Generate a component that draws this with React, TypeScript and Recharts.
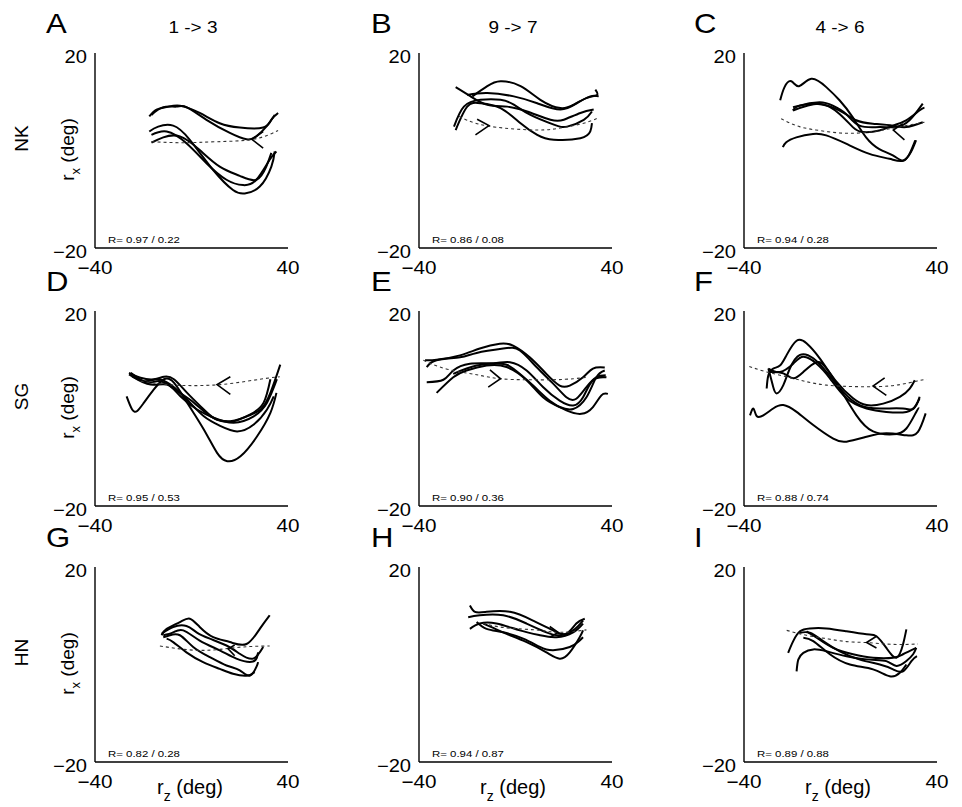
import React from 'react';
import { ComposedChart, Line, XAxis, YAxis } from 'recharts';

type Pt = [number, number];

// panel A  (NK, 1 -> 3)
const a1: Pt[] = [[-17.5, 7.0], [-14.5, 8.4], [-10.3, 8.9], [-4.8, 9.2], [3.4, 7.7], [11.7, 5.6], [20, 4.7], [29.7, 4.7], [33.1, 6.3], [35.9, 7.7]];
const a2: Pt[] = [[-16.6, 7.3], [-11.7, 8.9], [-6.2, 9.0], [-2.1, 8.9], [6.2, 6.3], [15.9, 3.6], [22.8, 2.3], [26.9, 2.9], [31, 4.9], [34.5, 7.3]];
const a3: Pt[] = [[-17.5, 3.9], [-13.8, 4.9], [-7.6, 5.1], [-0.7, 2.2], [9.0, -4.0], [17.2, -8.1], [22.1, -8.8], [28.3, -7.4], [33.1, -3.3], [34.5, -0.2]];
const a4: Pt[] = [[-16.6, 3.2], [-10.3, 3.9], [-2.1, 1.5], [6.2, -2.6], [14.5, -6.0], [21.4, -7.1], [26.9, -6.0], [32.4, -1.9], [35.2, -0.2]];
const a5: Pt[] = [[-16.6, 1.6], [-11.7, 2.7], [-4.8, 2.9], [3.4, 0.1], [11.7, -3.3], [20, -5.2], [26.9, -6.0], [31, -3.3], [33.1, -0.5]];
const aDash: Pt[] = [[-16.6, 1.8], [-3.4, 1.6], [10.3, 1.8], [25.5, 2.3], [35.9, 4.1]];
const aArrow: Pt[] = [[29.7, 3.9], [25.0, 2.3], [29.7, 0.5]];

// panel B  (NK, 9 -> 7)
const b1: Pt[] = [[-17.9, 11.1], [-11.7, 13.2], [-6.2, 14.2], [2.1, 13.2], [10.3, 10.4], [18.6, 8.7], [24.1, 9.4], [29.7, 10.8], [33.8, 11.4], [33.1, 12.5]];
const b2: Pt[] = [[-20, 11.4], [-11.7, 11.8], [-0.7, 11.1], [9.0, 9.7], [18.6, 8.4], [25.5, 9.7], [31, 11.1], [34.5, 11.1]];
const b3: Pt[] = [[-24.8, 13.0], [-18.6, 11.1], [-11.7, 9.4], [-3.4, 9.0], [4.8, 8.0], [14.5, 6.3], [20, 6.3], [26.9, 7.7], [32.4, 8.4]];
const b4: Pt[] = [[-25.5, 4.9], [-21.4, 9.0], [-14.5, 10.4], [-6.2, 10.4], [-0.7, 9.4], [6.2, 7.3], [15.9, 5.3], [21.4, 4.9], [28.3, 6.3], [31.7, 8.0]];
const b5: Pt[] = [[-24.8, 4.2], [-20, 9.0], [-14.5, 9.7], [-6.2, 8.7], [2.1, 5.6], [9.0, 3.2], [15.9, 2.2], [26.9, 2.5], [31, 3.9], [31.7, 5.6]];
const bDash: Pt[] = [[-23.4, 7.0], [-15.9, 5.5], [-4.8, 4.6], [9.0, 4.2], [18.6, 4.6], [28.3, 5.6], [33.8, 6.6]];
const bArrow: Pt[] = [[-15.9, 6.4], [-11.0, 5.1], [-16.6, 3.2]];

// panel C  (NK, 4 -> 6)
const c1: Pt[] = [[-25, 10.3], [-23.2, 13.0], [-20.4, 14.2], [-17.2, 13.2], [-12.1, 14.7], [-5.9, 13.0], [-0.4, 10.3], [5.1, 6.8], [10.6, 2.7], [16.1, 0.3], [21.7, -1.0], [25.8, -2.1], [28.6, -0.7], [31, 2.1]];
const c2: Pt[] = [[-19.7, 8.2], [-17, 9.2], [-8.7, 9.9], [-3.2, 9.2], [2.3, 7.5], [7.9, 5.1], [16.1, 4.8], [23, 4.8], [28.6, 6.2], [34.1, 9.6]];
const c3: Pt[] = [[-19.7, 8.9], [-10.1, 9.6], [-0.4, 8.2], [6.5, 6.2], [13.4, 5.5], [21.7, 5.1], [27.2, 4.8], [34.1, 5.8]];
const c4: Pt[] = [[-19.7, 8.2], [-8.7, 9.6], [-0.4, 7.5], [5.1, 4.8], [9.2, 3.8], [16.1, 4.1], [21.7, 5.1], [27.2, 6.2], [32.7, 8.2], [34.8, 8.8]];
const c5: Pt[] = [[-23.9, 0.7], [-22.5, 1.7], [-18.3, 2.7], [-11.4, 3.4], [-5.9, 3.1], [2.3, 1.4], [12, -0.7], [20.3, -1.7], [25.8, -2.1], [29.2, -0.3], [31.3, 2.1]];
const cDash: Pt[] = [[-24.6, 6.5], [-17, 4.9], [-8.7, 4.1], [-0.4, 3.6], [7.9, 3.6], [17.5, 4.2], [27.2, 5.1], [34.8, 5.8]];
const cArrow: Pt[] = [[25.8, 5.5], [21.9, 4.2], [26.5, 2.2]];

// panel D  (SG, 1 -> 3)
const d1: Pt[] = [[-26.9, 2.5], [-24.6, -0.2], [-22.5, -0.5], [-19.7, 1.2], [-15.6, 3.9], [-11.4, 6.0], [-7.3, 5.3], [-1.8, 1.2], [5.1, -4.3], [10.6, -9.1], [14.8, -10.8], [20.3, -9.8], [27.2, -5.7], [32.7, -0.9], [35.2, 3.2]];
const d2: Pt[] = [[-25.9, 7.3], [-21.1, 6.3], [-15.6, 6.0], [-11.4, 6.5], [-7.3, 6.0], [-1.8, 3.2], [5.1, -0.2], [10.6, -2.3], [17.5, -2.6], [23, -1.6], [28.6, -0.2], [32.7, 3.2], [36.8, 9.0]];
const d3: Pt[] = [[-25.9, 7.0], [-19.7, 5.6], [-14.2, 6.0], [-8.7, 4.9], [-1.8, 1.8], [5.1, -1.6], [12, -3.6], [18.9, -4.7], [25.8, -3.3], [31.3, -0.2], [34.1, 2.5]];
const d4: Pt[] = [[-25.2, 7.3], [-18.3, 5.3], [-12.8, 5.6], [-5.9, 3.6], [1, 1.2], [7.9, -1.6], [16.1, -2.6], [24.4, -1.2], [29.9, 1.2], [32.7, 6.0]];
const d5: Pt[] = [[-24.6, 6.6], [-17, 4.9], [-10.1, 4.9], [-4.6, 2.5], [2.3, -0.2], [9.2, -1.9], [17.5, -2.9], [25.8, -1.6], [31.3, 1.2], [35.4, 6.0]];
const dDash: Pt[] = [[-21.1, 5.6], [-10.1, 4.9], [1, 4.7], [12, 4.9], [23, 5.6], [32.7, 6.3], [36.6, 6.5]];
const dArrow: Pt[] = [[16.1, 6.5], [10.6, 4.9], [16.1, 2.9]];

// panel E  (SG, 9 -> 7)
const e1: Pt[] = [[-37.5, 9.9], [-32.7, 10.0], [-23, 10.9], [-14.8, 12.3], [-6.5, 13.3], [-1, 12.9], [5.9, 10.5], [12.8, 7.1], [18.3, 4.7], [22.5, 4.7], [28, 6.4], [32.1, 8.2], [37, 8.4]];
const e2: Pt[] = [[-36.8, 8.5], [-32.7, 9.9], [-23, 10.5], [-16.1, 11.4], [-5.1, 12.3], [1.8, 11.9], [8.7, 8.5], [15.6, 5.1], [21.1, 2.3], [25.2, 2.0], [29.4, 4.4], [33.5, 6.4], [37.4, 6.8]];
const e3: Pt[] = [[-36.8, 5.4], [-29.9, 5.9], [-25.8, 7.8], [-18.9, 9.2], [-9.2, 9.3], [-2.3, 9.5], [4.6, 7.8], [11.4, 4.4], [18.3, 1.6], [23.9, 0.6], [28, 2.3], [32.1, 5.8], [37.7, 6.4]];
const e4: Pt[] = [[-32.7, 3.2], [-25.8, 6.4], [-20.3, 7.8], [-12, 8.8], [-3.7, 8.5], [4.6, 5.8], [11.4, 2.3], [18.3, 0.3], [23.9, -0.1], [29.4, 2.3], [33.5, 6.4], [37, 7.8]];
const e5: Pt[] = [[-25.8, 7.1], [-16.1, 8.8], [-6.5, 9.2], [-1, 8.2], [7.3, 4.7], [14.2, 1.6], [21.1, -0.4], [27.3, -1.1], [32.1, 0.3], [35.6, 2.7], [38.3, 3.0]];
const eDash: Pt[] = [[-38.2, 9.9], [-31.3, 8.5], [-23, 7.5], [-14.8, 6.8], [-6.5, 6.1], [4.6, 5.9], [15.6, 5.9], [23.9, 6.1], [29.4, 6.4]];
const eArrow: Pt[] = [[-10.6, 7.9], [-6.2, 6.1], [-11.3, 4.4]];

// panel F  (SG, 4 -> 6)
const f1: Pt[] = [[-30.6, 4.1], [-29.9, 6.8], [-27.9, 8.2], [-25.1, 8.8], [-22.3, 11.0], [-18.2, 13.9], [-14.1, 13.4], [-8.6, 10.3], [-1.7, 5.5], [5.2, 2.1], [10.8, 0.7], [17.7, 1.0], [24.6, 2.4], [28.7, 4.1], [30.8, 5.8]];
const f2: Pt[] = [[-29.9, 8.2], [-28.1, 4.8], [-26.5, 3.1], [-23.7, 4.8], [-21, 8.2], [-16.8, 11.0], [-11.3, 10.3], [-5.8, 7.5], [1.1, 3.4], [8, 0.7], [16.3, 0], [25.9, 0], [30.1, -0.1], [32.8, 2.1]];
const f3: Pt[] = [[-29.9, 8.2], [-25.1, 7.5], [-19.6, 9.2], [-15.4, 10.6], [-9.9, 9.2], [-4.4, 6.2], [2.5, 2.1], [10.8, 0], [19, -0.7], [27.3, -0.7], [31.4, 0.7], [32.8, 2.4]];
const f4: Pt[] = [[-29.2, 7.5], [-23.7, 7.2], [-19.6, 6.2], [-15.4, 7.5], [-9.9, 9.5], [-5.8, 8.2], [-0.3, 4.1], [6.6, -1.4], [13.5, -4.7], [21.8, -5.3], [27.3, -4.1], [31.4, -0.7], [32.6, 0]];
const f5: Pt[] = [[-37.5, -1.4], [-36.1, 0], [-34.8, -1.5], [-32, -1.4], [-27.9, 0], [-23.7, 0.7], [-18.2, -0.7], [-11.3, -3.4], [-3, -6.2], [2.5, -6.8], [10.8, -5.8], [19, -5.1], [27.3, -5.5], [32.1, -4.8], [35.3, -1.0]];
const fDash: Pt[] = [[-37.8, 8.6], [-30.6, 7.5], [-22.3, 6.5], [-14.1, 5.5], [-5.8, 4.8], [5.2, 4.5], [16.3, 4.5], [24.6, 4.9], [31.4, 5.6], [35.6, 6.0]];
const fArrow: Pt[] = [[18.3, 6.3], [13.5, 4.6], [19, 2.7]];

// panel G  (HN, 1 -> 3)
const g1: Pt[] = [[-12.4, 6.0], [-10.3, 7.3], [-4.8, 8.7], [-0.7, 9.4], [3.4, 7.7], [9, 5.6], [15.9, 4.6], [22.8, 4.2], [28.3, 7.3], [32.4, 10.1]];
const g2: Pt[] = [[-12.4, 6.3], [-7.6, 7.7], [-2.1, 7.9], [2.1, 6.6], [7.6, 5.3], [14.5, 3.9], [20, 2.2], [25.5, 1.2], [29.7, 3.6]];
const g3: Pt[] = [[-11.7, 6.0], [-7.6, 6.6], [-3.4, 7.0], [3.4, 4.9], [11.7, 2.9], [18.6, 1.2], [25.5, 0.6], [27.6, 2.5]];
const g4: Pt[] = [[-11.7, 5.6], [-9, 6.0], [-4.8, 6.0], [0.7, 3.6], [7.6, 1.5], [14.5, -0.2], [20, -1.2], [24.1, -2.3], [26.9, -0.5], [27.6, 0.5]];
const g5: Pt[] = [[-10.3, 5.3], [-7.6, 4.6], [-2.1, 2.5], [4.8, 0.5], [11.7, -0.9], [17.2, -1.9], [22.8, -2.3], [26.2, -1.6]];
const gDash: Pt[] = [[-13.1, 3.8], [-4.8, 3.2], [3.4, 2.9], [11.7, 3.1], [21.4, 3.6], [32.4, 3.8]];
const gArrow: Pt[] = [[17.9, 4.0], [15.2, 3.2], [17.9, 1.8]];

// panel H  (HN, 9 -> 7)
const h1: Pt[] = [[-18.9, 12.1], [-16.8, 10.8], [-12, 10.8], [-2.3, 10.8], [7.3, 9.0], [15.6, 7.0], [21.1, 6.3], [25.2, 8.4], [28.7, 9.4]];
const h2: Pt[] = [[-19.6, 9.7], [-14.8, 10.1], [-5.1, 10.1], [4.6, 8.4], [12.8, 6.6], [18.3, 6.0], [23.9, 7.0], [28, 9.0]];
const h3: Pt[] = [[-18.9, 7.3], [-14.8, 8.4], [-7.9, 8.4], [1.8, 7.0], [10.1, 6.0], [17, 5.6], [23.9, 6.6], [28, 8.4]];
const h4: Pt[] = [[-16.1, 8.7], [-12, 7.3], [-5.1, 6.6], [3.2, 5.3], [10.1, 3.6], [15.6, 2.9], [22.5, 3.6], [25.9, 4.6], [28, 5.6]];
const h5: Pt[] = [[-13.4, 8.4], [-9.2, 7.5], [-3.7, 6.3], [4.6, 4.6], [12.8, 2.5], [18.3, 1.2], [22.5, 2.5], [26.6, 5.6], [28, 7.0]];
const hDash: Pt[] = [[-13.4, 8.4], [-6.5, 7.7], [1.8, 7.3], [10.1, 7.0], [18.3, 6.6], [29.4, 7.1]];
const hArrow: Pt[] = [[14.2, 7.8], [17.7, 6.6], [14.2, 5.6]];

// panel I  (HN, 4 -> 6)
const i1: Pt[] = [[-21.7, 2.4], [-19.6, 4.8], [-16.8, 6.8], [-12.7, 7.4], [-5.8, 7.4], [2.5, 6.8], [10.8, 6.2], [14.9, 5.8], [19, 3.4], [23.2, 1.4], [25.9, 4.1], [27.3, 7.2]];
const i2: Pt[] = [[-18.2, -1.4], [-17.5, 1.0], [-15.4, 2.4], [-11.3, 3.1], [-5.8, 2.7], [2.5, 1.7], [12.1, 1.0], [19, 0.7], [23.2, -0.3], [27.3, 0.7], [30.1, 2.1], [31.4, 3.4]];
const i3: Pt[] = [[-16.8, 6.5], [-12.7, 6.5], [-7.2, 4.8], [-0.3, 2.7], [8, 1.0], [16.3, 0], [21.8, -1.0], [25.9, -1.4], [29.4, 0.7], [31.7, 1.7]];
const i4: Pt[] = [[-15.4, 5.5], [-11.3, 4.8], [-4.4, 2.1], [3.9, 0], [13.5, -1.0], [20.4, -2.4], [24.6, -1.7], [27.3, 0]];
const i5: Pt[] = [[-14.1, 6.8], [-9.9, 5.5], [-3, 3.4], [5.2, 2.1], [13.5, 1.4], [21.8, 1.4], [25.9, 2.1], [31.4, 3.4]];
const iDash: Pt[] = [[-22.3, 7.0], [-14.1, 6.0], [-5.8, 5.3], [2.5, 4.7], [10.8, 4.5], [19, 4.2], [25.9, 4.1], [32.1, 4.2]];
const iArrow: Pt[] = [[14.9, 5.8], [10.8, 4.5], [14.9, 3.4]];

const letters = ['A', 'B', 'C', 'D', 'E', 'F', 'G', 'H', 'I'];
const rLabels = ['R= 0.97 / 0.22', 'R= 0.86 / 0.08', 'R= 0.94 / 0.28', 'R= 0.95 / 0.53', 'R= 0.90 / 0.36', 'R= 0.88 / 0.74', 'R= 0.82 / 0.28', 'R= 0.94 / 0.87', 'R= 0.89 / 0.88'];
const titles = ['1 -> 3', '9 -> 7', '4 -> 6'];
const subjects = ['NK', 'SG', 'HN'];
const xTicks = [-40, 40];
const yTicks = [-20, 20];

const panels = [
  { curves: [a1, a2, a3, a4, a5], dash: aDash, arrow: aArrow },
  { curves: [b1, b2, b3, b4, b5], dash: bDash, arrow: bArrow },
  { curves: [c1, c2, c3, c4, c5], dash: cDash, arrow: cArrow },
  { curves: [d1, d2, d3, d4, d5], dash: dDash, arrow: dArrow },
  { curves: [e1, e2, e3, e4, e5], dash: eDash, arrow: eArrow },
  { curves: [f1, f2, f3, f4, f5], dash: fDash, arrow: fArrow },
  { curves: [g1, g2, g3, g4, g5], dash: gDash, arrow: gArrow },
  { curves: [h1, h2, h3, h4, h5], dash: hDash, arrow: hArrow },
  { curves: [i1, i2, i3, i4, i5], dash: iDash, arrow: iArrow },
];

// layout (plot area corners, px)
const colLeft = [95, 419, 744];
const rowTop = [53, 311, 567];
const PW = 193;
const PH = 195;
const letterX = [46, 371, 694];
const titleX = [193, 513, 840];
const rzX = [190, 513, 838];

const toPts = (p: Pt[]) => p.map(([x, y]) => ({ x, y }));
const fmt = (v: number) => (v < 0 ? `\u2212${-v}` : `${v}`);

const XTick = (p: any) => (
  <text transform={`translate(${p.x},${p.y}) scale(1.15,1)`} textAnchor="middle" dy={12.5} fontSize={18} fill="#000">
    {fmt(p.payload.value)}
  </text>
);

const YTick = (p: any) => (
  <text transform={`translate(${p.x},${p.y}) scale(1.15,1)`} textAnchor="end" dy={9.5} fontSize={17.5} fill="#000">
    {fmt(p.payload.value)}
  </text>
);

const axisStyle = { stroke: '#000', strokeWidth: 1.4 };

const Panel: React.FC<{ idx: number }> = ({ idx }) => {
  const left = colLeft[idx % 3];
  const top = rowTop[Math.floor(idx / 3)];
  const p = panels[idx];
  return (
    <div style={{ position: 'absolute', left: left - 50, top: top - 10 }}>
      <ComposedChart width={PW + 65} height={PH + 40} margin={{ top: 10, right: 15, left: 0, bottom: 0 }}>
        <XAxis type="number" dataKey="x" domain={[-40, 40]} ticks={xTicks} interval={0} height={30}
          tickLine={false} tickSize={6} tickMargin={7} axisLine={axisStyle} tick={XTick} />
        <YAxis type="number" domain={[-20, 20]} ticks={yTicks} interval={0} width={50}
          tickLine={false} tickSize={6} tickMargin={2} axisLine={axisStyle} tick={YTick} />
        {p.curves.map((c, i) => (
          <Line key={i} data={toPts(c)} dataKey="y" type="natural" stroke="#000" strokeWidth={2}
            dot={false} activeDot={false} isAnimationActive={false} />
        ))}
        <Line data={toPts(p.dash)} dataKey="y" type="natural" stroke="#333" strokeWidth={1.1}
          strokeDasharray="3 3" dot={false} activeDot={false} isAnimationActive={false} />
        <Line data={toPts(p.arrow)} dataKey="y" type="linear" stroke="#000" strokeWidth={1.6}
          dot={false} activeDot={false} isAnimationActive={false} />
      </ComposedChart>
    </div>
  );
};

export default function App() {
  return (
    <div style={{ position: 'absolute', left: 0, top: 0, width: 962, height: 807, background: '#fff',
      fontFamily: '"Liberation Sans", Arial, Helvetica, sans-serif' }}>
      {panels.map((_, i) => <Panel key={i} idx={i} />)}
      <svg width={962} height={807} style={{ position: 'absolute', left: 0, top: 0, pointerEvents: 'none' }}>
        {letters.map((l, i) => (
          <text key={l} transform={`translate(${letterX[i % 3]},${rowTop[Math.floor(i / 3)] - 20}) scale(1.15,1)`}
            fontSize={27} fill="#000">{l}</text>
        ))}
        {titles.map((t, i) => (
          <text key={t} transform={`translate(${titleX[i]},33) scale(1.15,1)`} textAnchor="middle" fontSize={16.5} fill="#000">{t}</text>
        ))}
        {subjects.map((s, i) => (
          <text key={s} transform={`translate(28,${rowTop[i] + PH / 2 - 12}) rotate(-90)`} textAnchor="middle" fontSize={19} fill="#000">{s}</text>
        ))}
        {rowTop.map((t, i) => (
          <text key={'rx' + i} transform={`translate(74,${t + PH / 2 - 1}) rotate(-90)`} textAnchor="middle" fontSize={19} fill="#000">
            r<tspan fontSize={13} dy={6}>x</tspan><tspan dy={-6}> (deg)</tspan>
          </text>
        ))}
        {rzX.map((x, i) => (
          <text key={'rz' + i} x={x} y={794} textAnchor="middle" fontSize={20} fill="#000">
            r<tspan fontSize={14} dy={7}>z</tspan><tspan dy={-7}> (deg)</tspan>
          </text>
        ))}
        {rLabels.map((r, i) => (
          <text key={'r' + i} transform={`translate(${colLeft[i % 3] + 13},${rowTop[Math.floor(i / 3)] + PH - 5}) scale(1.2,1)`}
            fontSize={9.5} fill="#000">{r}</text>
        ))}
      </svg>
    </div>
  );
}
